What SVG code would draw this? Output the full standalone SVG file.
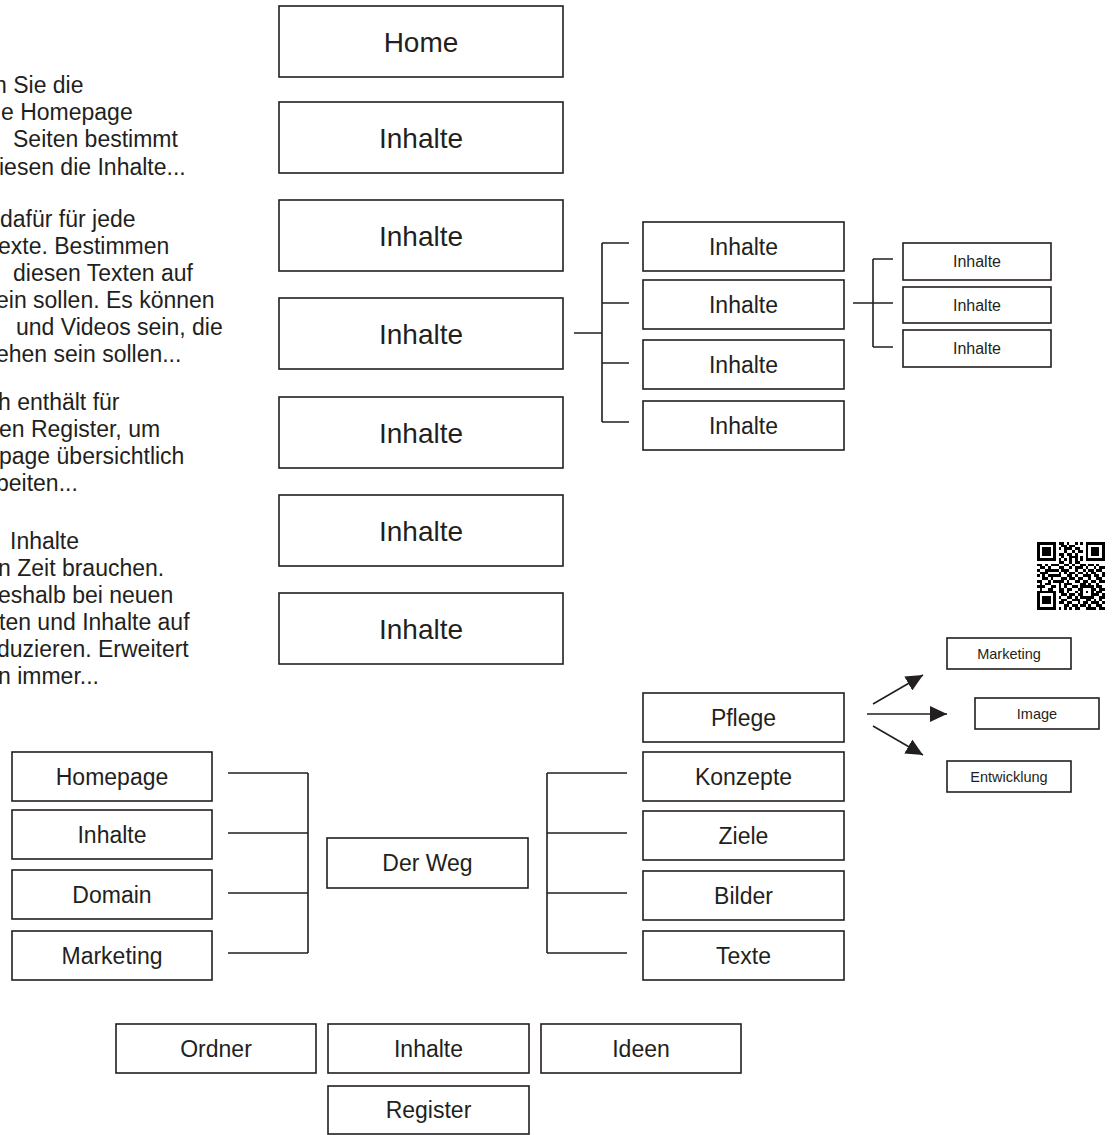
<svg xmlns="http://www.w3.org/2000/svg" width="1112" height="1135" viewBox="0 0 1112 1135">
<style>
  .box { fill: #ffffff; stroke: #231f20; stroke-width: 1.6; }
  .t { font-family: "Liberation Sans", Arial, sans-serif; fill: #231f20; text-anchor: middle; }
  .t28 { font-size: 28px; }
  .t23 { font-size: 23px; }
  .t16 { font-size: 16px; }
  .t14 { font-size: 14.5px; }
  .body { font-family: "Liberation Sans", Arial, sans-serif; fill: #231f20; font-size: 23px; }
  .con { fill: none; stroke: #231f20; stroke-width: 1.6; }
</style>
<defs>
  <marker id="ah" markerUnits="userSpaceOnUse" markerWidth="18" markerHeight="16" refX="17" refY="8" orient="auto">
    <path d="M0,0 L17,8 L0,16 z" fill="#231f20"/>
  </marker>
</defs>
<rect width="1112" height="1135" fill="#ffffff"/>

<g id="intro-text" class="body">
  <text x="-6" y="93">n Sie die</text>
  <text x="1" y="120">e Homepage</text>
  <text x="13" y="147">Seiten bestimmt</text>
  <text x="-1" y="175">iesen die Inhalte...</text>
  <text x="0" y="227">dafür für jede</text>
  <text x="-2" y="254">exte. Bestimmen</text>
  <text x="13" y="281">diesen Texten auf</text>
  <text x="-4" y="308">ein sollen. Es können</text>
  <text x="16" y="335">und Videos sein, die</text>
  <text x="-4" y="362">ehen sein sollen...</text>
  <text x="-2" y="410">h enthält für</text>
  <text x="-1" y="437">en Register, um</text>
  <text x="-1" y="464">page übersichtlich</text>
  <text x="-4" y="491">beiten...</text>
  <text x="10" y="549">Inhalte</text>
  <text x="-2" y="576">n Zeit brauchen.</text>
  <text x="-2" y="603">eshalb bei neuen</text>
  <text x="-1" y="630">ten und Inhalte auf</text>
  <text x="-3" y="657">duzieren. Erweitert</text>
  <text x="-2" y="684">n immer...</text>
</g>

<g id="connectors">
  <path class="con" d="M574,333 H602 M602,243 V422 M602,243 H629 M602,303 H629 M602,363 H629 M602,422 H629"/>
  <path class="con" d="M853,303 H893 M873,259 V347 M873,259 H893 M873,347 H893"/>
  <path class="con" d="M228,773 H308 M228,833 H308 M228,893 H308 M228,953 H308 M308,773 V953"/>
  <path class="con" d="M547,773 V953 M547,773 H627 M547,833 H627 M547,893 H627 M547,953 H627"/>
  <line class="con" x1="873" y1="704" x2="923" y2="675" marker-end="url(#ah)"/>
  <line class="con" x1="867" y1="714" x2="947" y2="714" marker-end="url(#ah)"/>
  <line class="con" x1="873" y1="726" x2="923" y2="755" marker-end="url(#ah)"/>
</g>

<g id="home"><rect class="box" x="279" y="6" width="284" height="71"/><text class="t t28" x="421" y="52">Home</text></g>
<g id="inhalte-1"><rect class="box" x="279" y="102" width="284" height="71"/><text class="t t28" x="421" y="148">Inhalte</text></g>
<g id="inhalte-2"><rect class="box" x="279" y="200" width="284" height="71"/><text class="t t28" x="421" y="246">Inhalte</text></g>
<g id="inhalte-3"><rect class="box" x="279" y="298" width="284" height="71"/><text class="t t28" x="421" y="344">Inhalte</text></g>
<g id="inhalte-4"><rect class="box" x="279" y="397" width="284" height="71"/><text class="t t28" x="421" y="443">Inhalte</text></g>
<g id="inhalte-5"><rect class="box" x="279" y="495" width="284" height="71"/><text class="t t28" x="421" y="541">Inhalte</text></g>
<g id="inhalte-6"><rect class="box" x="279" y="593" width="284" height="71"/><text class="t t28" x="421" y="639">Inhalte</text></g>

<g id="sub-1"><rect class="box" x="643" y="222" width="201" height="49"/><text class="t t23" x="743.5" y="254.5">Inhalte</text></g>
<g id="sub-2"><rect class="box" x="643" y="280" width="201" height="49"/><text class="t t23" x="743.5" y="312.5">Inhalte</text></g>
<g id="sub-3"><rect class="box" x="643" y="340" width="201" height="49"/><text class="t t23" x="743.5" y="372.5">Inhalte</text></g>
<g id="sub-4"><rect class="box" x="643" y="401" width="201" height="49"/><text class="t t23" x="743.5" y="433.5">Inhalte</text></g>

<g id="subsub-1"><rect class="box" x="903" y="243" width="148" height="37"/><text class="t t16" x="977" y="267">Inhalte</text></g>
<g id="subsub-2"><rect class="box" x="903" y="287" width="148" height="36"/><text class="t t16" x="977" y="311">Inhalte</text></g>
<g id="subsub-3"><rect class="box" x="903" y="330" width="148" height="37"/><text class="t t16" x="977" y="354">Inhalte</text></g>

<g id="qr-code" transform="translate(1037,542) scale(2.7)">
  <path fill="#000000" shape-rendering="crispEdges" d="
M0 0h7v1h-7z M8 0h2v1h-2z M11 0h1v1h-1z M14 0h1v1h-1z M16 0h1v1h-1z M18 0h7v1h-7z
M0 1h1v1h-1z M6 1h1v1h-1z M9 1h2v1h-2z M12 1h2v1h-2z M18 1h1v1h-1z M24 1h1v1h-1z
M0 2h1v1h-1z M2 2h3v1h-3z M6 2h1v1h-1z M8 2h1v1h-1z M10 2h3v1h-3z M14 2h2v1h-2z M18 2h1v1h-1z M20 2h3v1h-3z M24 2h1v1h-1z
M0 3h1v1h-1z M2 3h3v1h-3z M6 3h1v1h-1z M10 3h1v1h-1z M13 3h1v1h-1z M15 3h2v1h-2z M18 3h1v1h-1z M20 3h3v1h-3z M24 3h1v1h-1z
M0 4h1v1h-1z M2 4h3v1h-3z M6 4h1v1h-1z M8 4h2v1h-2z M11 4h2v1h-2z M14 4h1v1h-1z M18 4h1v1h-1z M20 4h3v1h-3z M24 4h1v1h-1z
M0 5h1v1h-1z M6 5h1v1h-1z M9 5h1v1h-1z M12 5h3v1h-3z M16 5h1v1h-1z M18 5h1v1h-1z M24 5h1v1h-1z
M0 6h7v1h-7z M8 6h1v1h-1z M10 6h1v1h-1z M12 6h1v1h-1z M14 6h1v1h-1z M16 6h1v1h-1z M18 6h7v1h-7z
M8 7h2v1h-2z M12 7h1v1h-1z M14 7h2v1h-2z
M0 8h2v1h-2z M3 8h1v1h-1z M5 8h3v1h-3z M10 8h2v1h-2z M13 8h1v1h-1z M16 8h2v1h-2z M19 8h2v1h-2z M22 8h1v1h-1z
M1 9h2v1h-2z M4 9h1v1h-1z M8 9h2v1h-2z M12 9h1v1h-1z M14 9h3v1h-3z M18 9h1v1h-1z M21 9h1v1h-1z M23 9h2v1h-2z
M0 10h1v1h-1z M3 10h5v1h-5z M9 10h3v1h-3z M14 10h1v1h-1z M17 10h1v1h-1z M19 10h2v1h-2z M22 10h2v1h-2z
M1 11h3v1h-3z M8 11h1v1h-1z M10 11h1v1h-1z M12 11h2v1h-2z M15 11h2v1h-2z M18 11h1v1h-1z M20 11h2v1h-2z M24 11h1v1h-1z
M0 12h1v1h-1z M2 12h1v1h-1z M4 12h5v1h-5z M11 12h2v1h-2z M14 12h1v1h-1z M17 12h3v1h-3z M21 12h2v1h-2z M24 12h1v1h-1z
M2 13h2v1h-2z M5 13h1v1h-1z M9 13h2v1h-2z M12 13h2v1h-2z M15 13h2v1h-2z M19 13h1v1h-1z M22 13h2v1h-2z
M0 14h2v1h-2z M4 14h1v1h-1z M6 14h4v1h-4z M11 14h1v1h-1z M14 14h2v1h-2z M17 14h2v1h-2z M20 14h2v1h-2z M23 14h2v1h-2z
M1 15h1v1h-1z M3 15h2v1h-2z M8 15h1v1h-1z M10 15h3v1h-3z M16 15h2v1h-2z M19 15h1v1h-1z M22 15h1v1h-1z
M0 16h3v1h-3z M5 16h2v1h-2z M8 16h1v1h-1z M10 16h1v1h-1z M13 16h2v1h-2z M16 16h5v1h-5z M22 16h2v1h-2z
M1 17h1v1h-1z M4 17h2v1h-2z M8 17h2v1h-2z M11 17h2v1h-2z M15 17h2v1h-2z M20 17h2v1h-2z M23 17h2v1h-2z
M0 18h7v1h-7z M8 18h2v1h-2z M11 18h1v1h-1z M14 18h1v1h-1z M16 18h1v1h-1z M18 18h1v1h-1z M20 18h1v1h-1z M22 18h2v1h-2z
M0 19h1v1h-1z M6 19h1v1h-1z M9 19h2v1h-2z M12 19h2v1h-2z M15 19h2v1h-2z M20 19h3v1h-3z M24 19h1v1h-1z
M0 20h1v1h-1z M2 20h3v1h-3z M6 20h1v1h-1z M8 20h1v1h-1z M11 20h2v1h-2z M14 20h1v1h-1z M16 20h5v1h-5z M23 20h2v1h-2z
M0 21h1v1h-1z M2 21h3v1h-3z M6 21h1v1h-1z M9 21h2v1h-2z M13 21h3v1h-3z M18 21h2v1h-2z M21 21h1v1h-1z M23 21h1v1h-1z
M0 22h1v1h-1z M2 22h3v1h-3z M6 22h1v1h-1z M8 22h2v1h-2z M11 22h2v1h-2z M15 22h1v1h-1z M17 22h2v1h-2z M20 22h3v1h-3z M24 22h1v1h-1z
M0 23h1v1h-1z M6 23h1v1h-1z M10 23h2v1h-2z M13 23h2v1h-2z M16 23h2v1h-2z M19 23h1v1h-1z M22 23h2v1h-2z
M0 24h7v1h-7z M8 24h1v1h-1z M10 24h1v1h-1z M12 24h1v1h-1z M14 24h2v1h-2z M18 24h4v1h-4z M23 24h2v1h-2z"/>
</g>

<g id="marketing-r"><rect class="box" x="947" y="638" width="124" height="31"/><text class="t t14" x="1009" y="658.5">Marketing</text></g>
<g id="image"><rect class="box" x="975" y="698" width="124" height="31"/><text class="t t14" x="1037" y="718.5">Image</text></g>
<g id="entwicklung"><rect class="box" x="947" y="761" width="124" height="31"/><text class="t t14" x="1009" y="781.5">Entwicklung</text></g>

<g id="pflege"><rect class="box" x="643" y="693" width="201" height="49"/><text class="t t23" x="743.5" y="725.5">Pflege</text></g>
<g id="konzepte"><rect class="box" x="643" y="752" width="201" height="49"/><text class="t t23" x="743.5" y="784.5">Konzepte</text></g>
<g id="ziele"><rect class="box" x="643" y="811" width="201" height="49"/><text class="t t23" x="743.5" y="843.5">Ziele</text></g>
<g id="bilder"><rect class="box" x="643" y="871" width="201" height="49"/><text class="t t23" x="743.5" y="903.5">Bilder</text></g>
<g id="texte"><rect class="box" x="643" y="931" width="201" height="49"/><text class="t t23" x="743.5" y="963.5">Texte</text></g>

<g id="homepage"><rect class="box" x="12" y="752" width="200" height="49"/><text class="t t23" x="112" y="784.5">Homepage</text></g>
<g id="inhalte-l"><rect class="box" x="12" y="810" width="200" height="49"/><text class="t t23" x="112" y="842.5">Inhalte</text></g>
<g id="domain"><rect class="box" x="12" y="870" width="200" height="49"/><text class="t t23" x="112" y="902.5">Domain</text></g>
<g id="marketing-l"><rect class="box" x="12" y="931" width="200" height="49"/><text class="t t23" x="112" y="963.5">Marketing</text></g>

<g id="der-weg"><rect class="box" x="327" y="838" width="201" height="50"/><text class="t t23" x="427.5" y="871">Der Weg</text></g>

<g id="ordner"><rect class="box" x="116" y="1024" width="200" height="49"/><text class="t t23" x="216" y="1056.5">Ordner</text></g>
<g id="inhalte-b"><rect class="box" x="328" y="1024" width="201" height="49"/><text class="t t23" x="428.5" y="1056.5">Inhalte</text></g>
<g id="ideen"><rect class="box" x="541" y="1024" width="200" height="49"/><text class="t t23" x="641" y="1056.5">Ideen</text></g>
<g id="register"><rect class="box" x="328" y="1086" width="201" height="48"/><text class="t t23" x="428.5" y="1118">Register</text></g>
</svg>
